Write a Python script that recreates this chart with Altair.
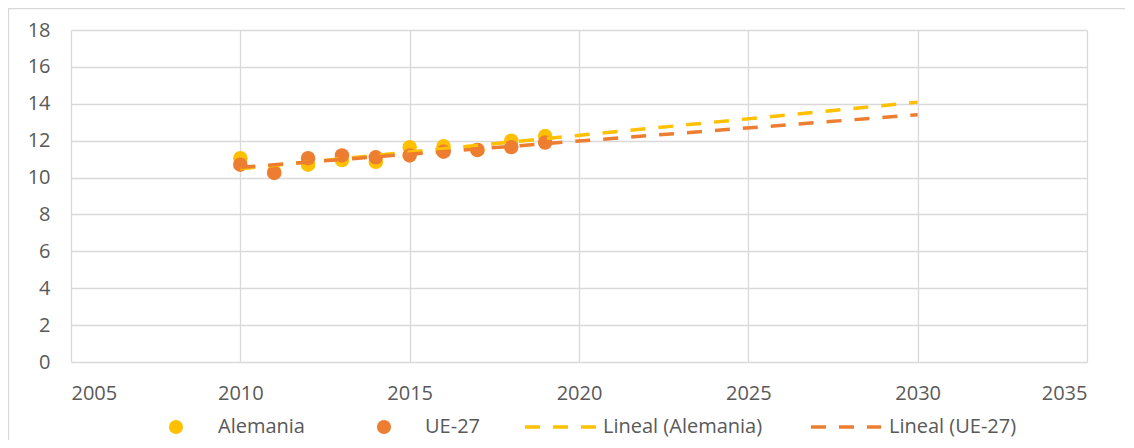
import altair as alt
import pandas as pd

years = [2010, 2011, 2012, 2013, 2014, 2015, 2016, 2017, 2018, 2019]
alemania = [11.05, 10.3, 10.7, 10.95, 10.85, 11.65, 11.7, 11.5, 12.0, 12.25]
ue27 = [10.7, 10.25, 11.05, 11.2, 11.1, 11.2, 11.4, 11.5, 11.65, 11.9]
series_names = ["Alemania", "UE-27"]
trend_names = ["Lineal (Alemania)", "Lineal (UE-27)"]
colors = ["#FFC000", "#ED7D31"]
x_ticks = [2005, 2010, 2015, 2020, 2025, 2030, 2035]
y_ticks = [0, 2, 4, 6, 8, 10, 12, 14, 16, 18]

FONT = "Open Sans"
TXT = "#595959"
GRID = "#D9D9D9"

df_a = pd.DataFrame({"year": years, "value": alemania})
df_u = pd.DataFrame({"year": years, "value": ue27})

xs = alt.X("year:Q", scale=alt.Scale(domain=[2005, 2035], nice=False, zero=False),
           axis=alt.Axis(values=x_ticks, format="d", title=None, grid=True, domain=False,
                         ticks=False, labelPadding=21, labelFontSize=20, labelFont=FONT,
                         labelColor=TXT, gridColor=GRID, gridWidth=1.3, labelOverlap=False))
ys = alt.Y("value:Q", scale=alt.Scale(domain=[0, 18], nice=False),
           axis=alt.Axis(values=y_ticks, title=None, grid=True, domain=False, ticks=False,
                         labelPadding=21, labelFontSize=20, labelFont=FONT,
                         labelColor=TXT, gridColor=GRID, gridWidth=1.3, labelOverlap=False))

def points(df, color):
    return alt.Chart(df).mark_circle(size=210, opacity=1, color=color).encode(x=xs, y=ys)

def trend(df, color):
    return (alt.Chart(df)
            .transform_regression("year", "value", method="linear", extent=[2010, 2030])
            .mark_line(color=color, strokeWidth=3.5, strokeDash=[15, 13])
            .encode(x=xs, y=ys))

# outer chart border (decoration)
border = alt.Chart(pd.DataFrame({"k": [0]})).mark_rect(
    fill=None, stroke=GRID, strokeWidth=1.3
).encode(x=alt.value(-62.5), x2=alt.value(1200), y=alt.value(-21.5), y2=alt.value(500))

# manual legend
LY = 397
leg_pts = pd.DataFrame({"name": series_names, "px": [105, 313], "col": colors})
leg_pt = alt.Chart(leg_pts).mark_circle(size=200, opacity=1).encode(
    x=alt.X("px:Q", scale=None, axis=None), y=alt.value(LY),
    color=alt.Color("col:N", scale=None))
leg_txt = pd.DataFrame({"label": series_names + trend_names, "px": [147, 354, 532, 818]})
leg_t = alt.Chart(leg_txt).mark_text(align="left", baseline="middle", fontSize=20,
                                     font=FONT, color=TXT).encode(
    x=alt.X("px:Q", scale=None, axis=None), y=alt.value(LY), text="label:N")
leg_lines = pd.DataFrame({"name": trend_names, "px": [454, 740], "px2": [526, 810], "col": colors})
leg_l = alt.Chart(leg_lines).mark_rule(strokeWidth=3.5, strokeDash=[15, 13]).encode(
    x=alt.X("px:Q", scale=None, axis=None), x2="px2:Q", y=alt.value(LY),
    color=alt.Color("col:N", scale=None))

chart = alt.layer(
    border,
    points(df_a, colors[0]),
    points(df_u, colors[1]),
    trend(df_a, colors[0]),
    trend(df_u, colors[1]),
    leg_pt, leg_l, leg_t,
).properties(
    width=1016, height=332,
    autosize=alt.AutoSizeParams(type="none"),
    padding={"left": 63, "top": 22, "right": 38, "bottom": 78},
    background="white",
).configure_view(stroke=None)

chart.save("out.html", embed_options={"renderer": "svg", "actions": False})
